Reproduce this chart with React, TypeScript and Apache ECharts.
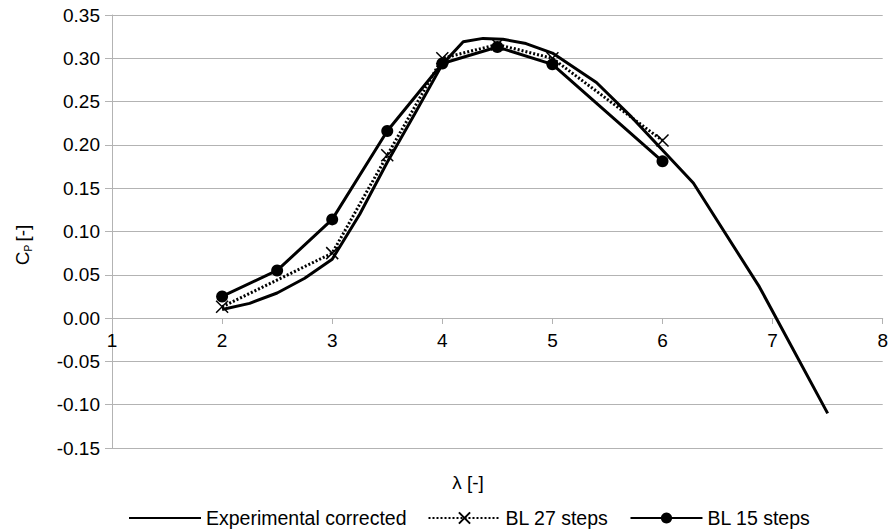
import React, { useEffect, useRef } from "react";
import * as echarts from "echarts";

const lambdaExp = [2.0, 2.25, 2.5, 2.75, 3.0, 3.25, 3.5, 3.75, 4.0, 4.19, 4.37, 4.55, 4.76, 5.0, 5.4, 5.72, 6.28, 6.88, 7.5];
const cpExp = [0.010, 0.017, 0.029, 0.046, 0.068, 0.120, 0.180, 0.236, 0.293, 0.319, 0.323, 0.322, 0.317, 0.306, 0.272, 0.232, 0.156, 0.036, -0.110];

const lambdaBL27 = [2, 3, 3.5, 4, 4.5, 5, 6];
const cpBL27 = [0.013, 0.075, 0.188, 0.300, 0.316, 0.300, 0.205];

const lambdaBL15 = [2, 2.5, 3, 3.5, 4, 4.5, 5, 6];
const cpBL15 = [0.025, 0.055, 0.114, 0.216, 0.294, 0.313, 0.293, 0.181];

const seriesNames = ["Experimental corrected", "BL 27 steps", "BL 15 steps"];

const FONT = "Liberation Sans";
const GRAY = "#b3b3b3";

const zip = (xs: number[], ys: number[]) => xs.map((x, i) => [x, ys[i]]);

export default function App() {
  const ref = useRef<HTMLDivElement>(null);
  useEffect(() => {
    if (!ref.current) return;
    const chart = echarts.init(ref.current, null, { renderer: "svg" });
    chart.setOption({
      animation: false,
      backgroundColor: "#ffffff",
      textStyle: { fontFamily: FONT, color: "#000" },
      grid: { left: 112, right: 4, top: 15, bottom: 83, containLabel: false },
      xAxis: {
        type: "value",
        min: 1,
        max: 8,
        interval: 1,
        offset: -130,
        axisLine: { show: true, onZero: false, lineStyle: { color: GRAY, width: 1 } },
        axisTick: { show: true, length: 6, inside: false, lineStyle: { color: GRAY } },
        axisLabel: { color: "#000", fontSize: 19, fontFamily: FONT, margin: 13 },
        splitLine: { show: false },
      },
      yAxis: {
        type: "value",
        min: -0.15,
        max: 0.35,
        interval: 0.05,
        axisLine: { show: true, lineStyle: { color: GRAY, width: 1 } },
        axisTick: { show: true, length: 7, lineStyle: { color: GRAY } },
        axisLabel: {
          color: "#000",
          fontSize: 19,
          fontFamily: FONT,
          margin: 12,
          formatter: (v: number) => v.toFixed(2),
        },
        splitLine: { show: true, lineStyle: { color: GRAY, width: 1 } },
      },
      legend: {
        data: [
          { name: seriesNames[0], itemStyle: { opacity: 0 } },
          { name: seriesNames[1] },
          { name: seriesNames[2] },
        ],
        left: 128,
        top: 508,
        padding: 0,
        itemWidth: 72,
        itemHeight: 14,
        itemGap: 21,
        textStyle: { fontSize: 19.5, fontFamily: FONT, color: "#000" },
      },
      graphic: [
        {
          type: "text",
          x: 468,
          y: 482,
          style: {
            text: "λ [-]",
            fontSize: 19,
            fontFamily: FONT,
            fill: "#000",
            align: "center",
            verticalAlign: "middle",
          },
        },
        {
          type: "text",
          x: 22,
          y: 245,
          rotation: Math.PI / 2,
          style: {
            text: "{c|C}{p|P} {c|[-]}",
            fill: "#000",
            align: "center",
            verticalAlign: "middle",
            rich: {
              c: { fontSize: 19, fontFamily: FONT, fill: "#000" },
              p: { fontSize: 10, fontFamily: FONT, fill: "#000", padding: [12, 0, 0, 0] },
            },
          },
        },
      ],
      series: [
        {
          name: seriesNames[0],
          type: "line",
          data: zip(lambdaExp, cpExp),
          showSymbol: false,
          symbol: "circle",
          symbolSize: 0,
          lineStyle: { color: "#000", width: 3 },
          itemStyle: { color: "#000" },
          z: 3,
        },
        {
          name: seriesNames[1],
          type: "line",
          data: zip(lambdaBL27, cpBL27),
          symbol: "path://M0,0L10,10M10,0L0,10",
          symbolSize: 12,
          lineStyle: { color: "#000", width: 3, type: [2, 2] },
          itemStyle: { color: "none", borderColor: "#000", borderWidth: 1.5 },
          z: 4,
        },
        {
          name: seriesNames[2],
          type: "line",
          data: zip(lambdaBL15, cpBL15),
          symbol: "circle",
          symbolSize: 12,
          lineStyle: { color: "#000", width: 3 },
          itemStyle: { color: "#000" },
          z: 5,
        },
      ],
    });
    return () => chart.dispose();
  }, []);
  return <div ref={ref} style={{ width: 891, height: 531, position: "fixed", left: 0, top: 0 }} />;
}
